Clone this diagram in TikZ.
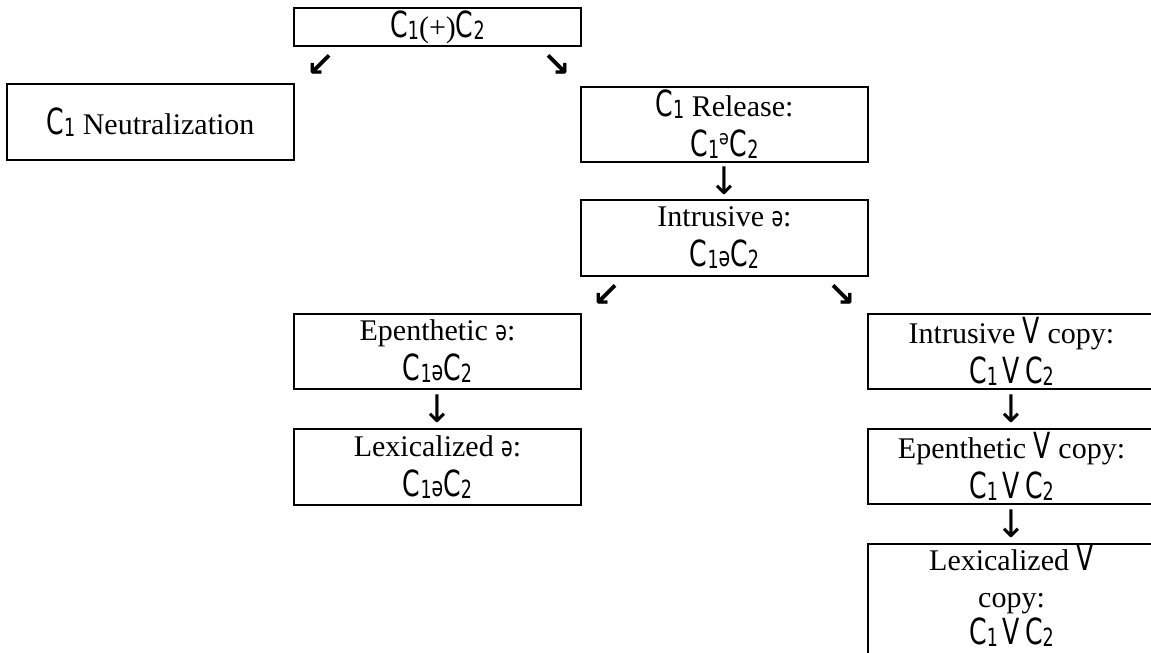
\documentclass[tikz,border=0pt]{standalone}
\usepackage{fontspec}
\setmainfont{Liberation Serif}
\newfontfamily\cfont[FakeStretch=0.7]{DejaVu Sans}
\newfontfamily\arrfont{DejaVu Sans}
\usetikzlibrary{positioning,calc}
\newcommand{\seg}[1]{{\cfont\fontsize{36}{40}\selectfont #1}}
\newcommand{\sub}[1]{\raisebox{-2pt}{\cfont\fontsize{25}{30}\selectfont #1}}
\newcommand{\schwa}{{\cfont\fontsize{27}{40}\selectfont ə}}

\begin{document}
\begin{tikzpicture}[x=1pt,y=-1pt,
    node distance=38pt,
    box/.style={draw,line width=2.6pt,outer sep=0pt,minimum width=287pt,minimum height=76pt,inner sep=0pt,align=center,font=\fontsize{30}{40}\selectfont},
    tip/.style={font=\arrfont\bfseries\fontsize{34}{34}\selectfont,inner sep=0pt},
    down/.style={font=\arrfont\fontsize{38}{38}\selectfont,inner sep=0pt}
  ]
  \useasboundingbox (0,0) rectangle (1151,653);
  \clip (0,0) rectangle (1151,653);
  \node[box,minimum height=38pt] (root) at (437.5,27) {\seg{C}\sub{1}(+)\seg{C}\sub{2}};
  \node[box,below left=38pt and 0pt of root] (neut) {\seg{C}\sub{1} Neutralization};
  \node[box,below right=41pt and 0pt of root,minimum height=75pt] (rel) {\seg{C}\sub{1} Release:\\\seg{C}\sub{1}\seg{ᵊ}\seg{C}\sub{2}};
  \node[box,below=of rel] (intr) {Intrusive \schwa:\\\seg{C}\sub{1}\schwa\seg{C}\sub{2}};
  \node[box,below left=38pt and 0pt of intr,minimum height=75pt] (epen) {Epenthetic \schwa:\\\seg{C}\sub{1}\schwa\seg{C}\sub{2}};
  \node[box,below=40pt of epen] (lexs) {Lexicalized \schwa:\\\seg{C}\sub{1}\schwa\seg{C}\sub{2}};
  \node[box,below right=38pt and 0pt of intr,minimum height=75pt] (ivc) {Intrusive \seg{V} copy:\\\seg{C}\sub{1}\,\seg{V}\,\seg{C}\sub{2}};
  \node[box,below=40pt of ivc,minimum height=75pt] (evc) {Epenthetic \seg{V} copy:\\\seg{C}\sub{1}\,\seg{V}\,\seg{C}\sub{2}};
  \node[box,below=40pt of evc,text depth=32pt,font=\fontsize{30}{37}\selectfont] (lvc) {Lexicalized \seg{V}\\copy:\\\seg{C}\sub{1}\,\seg{V}\,\seg{C}\sub{2}};
  % arrow glyphs between the boxes
  \node[tip] (r1) at ($(root.south west)+(27,19)$) {↙};
  \node[tip] (r2) at ($(root.south east)+(-24,19)$) {↘};
  \node[down] (d1) at ($(rel.south)!0.5!(intr.north)$) {↓};
  \node[tip] (i1) at ($(intr.south west)+(26,19)$) {↙};
  \node[tip] (i2) at ($(intr.south east)+(-26,19)$) {↘};
  \node[down] (d2) at ($(epen.south)!0.5!(lexs.north)$) {↓};
  \node[down] (d3) at ($(ivc.south)!0.5!(evc.north)$) {↓};
  \node[down] (d4) at ($(evc.south)!0.5!(lvc.north)$) {↓};
\end{tikzpicture}
\end{document}
